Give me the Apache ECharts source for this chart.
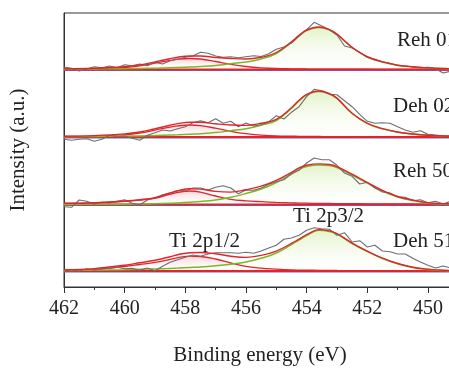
<!DOCTYPE html>
<html>
<head>
<meta charset="utf-8">
<script src="https://cdn.jsdelivr.net/npm/echarts@6/dist/echarts.min.js"></script>
<style>
  html, body { margin: 0; padding: 0; background: #fff; }
  #main { width: 449px; height: 368px; }
</style>
</head>
<body>
<div id="main"></div>
<script>
// energies of the measured points (eV)
var rawEnergy = [462, 461.75, 461.5, 461.25, 461, 460.75, 460.5, 460.25, 460, 459.75, 459.5, 459.25, 459,
  458.75, 458.5, 458.25, 458, 457.75, 457.5, 457.25, 457, 456.75, 456.5, 456.25, 456, 455.75, 455.5,
  455.25, 455, 454.75, 454.5, 454.25, 454, 453.75, 453.5, 453.25, 453, 452.75, 452.5, 452.25, 452,
  451.75, 451.5, 451.25, 451, 450.75, 450.5, 450.25, 450, 449.75, 449.5, 449.25, 449];
// energies where the fitted curves were read
var fitEnergy = [462, 461, 460, 459.5, 459, 458.5, 458.25, 457.85, 457.5, 457, 456.5, 456, 455.5, 455,
  454.5, 454.25, 454, 453.6, 453.25, 453, 452.5, 452, 451.5, 451, 450.5, 450, 449.5, 449];

var sampleNames = ["Reh 01", "Deh 02", "Reh 50", "Deh 51"];

// raw spectra (height above each baseline)
var reh01Raw = [2.5, 1.2, -1.5, 0.5, 2.8, 1.8, 3.5, 1.8, 4.8, 3.8, 5.5, 3.8, 7.2, 5.5, 8.8, 10.2, 12.2, 13.5,
  17.2, 16.2, 13.5, 12.2, 12.8, 11.8, 12.8, 13.8, 13, 15.8, 20.2, 22.5, 26.5, 33.5, 39.8, 47.2, 43.5, 39.8,
  34.5, 23.5, 21.5, 17.2, 12.2, 10.2, 7.8, 6.2, 3.8, 3.5, 2.5, 1.8, 2.2, 0.8, -3.5, -1.8, -0.5];
var deh02Raw = [-2.3, -3.3, -2.3, -1.7, -4.3, -2.3, 1.7, 0.3, 1, -1.3, -3.3, 1.7, 4.3, 7, 6, 8.3, 10.3, 14.3,
  16.3, 14.3, 18.3, 13.7, 15.7, 10.3, 14, 11, 12.3, 15, 21.3, 18, 24.7, 30.3, 40.3, 47.7, 46.3, 42.7, 42.3,
  36.3, 30.3, 22.7, 15.7, 13.7, 14.3, 13.7, 10.3, 7, 4.7, 6.3, 2.7, 2, 1, 0.5, 0.3];
var reh50Raw = [-2.2, -2.8, 4.5, 3.2, 0.5, 2.2, 1.5, 3.2, 4.8, 1.2, -0.2, 4.5, 6.8, 9.8, 11.5, 13.8, 13.8, 16.5,
  16.5, 14.5, 17.2, 18.8, 16.5, 10.8, 14.5, 14.2, 16.5, 20.2, 22.8, 24.8, 30.8, 34.2, 41.5, 46.5, 44.8, 44.8,
  39.2, 31.5, 28.2, 20.5, 22.2, 16.5, 12.5, 11.5, 7.8, 7.2, 3.8, 4.8, 1.8, 3.2, 0.5, 3.2, 1];
var deh51Raw = [-0.3, 1.3, 0, 2.3, 1, 2, 2.7, 3.7, 2.3, 2.7, 0.7, 3, 0.3, 4.7, 8.7, 11.3, 13.7, 16, 14.7, 17,
  18.3, 18.3, 18.3, 17.7, 18.7, 17.7, 20, 23, 25.7, 31.7, 33, 35.7, 40.7, 43.3, 42.3, 41.7, 35.7, 38.3, 29,
  30.3, 24, 25.7, 20, 19.3, 17, 17, 12.7, 9, 5.7, 3, 5, 3, 2];

// fitted Ti 2p3/2 components
var reh01Ti2p3 = [0.3, 0.5, 0.8, 1.0, 1.3, 1.7, 2.0, 2.5, 3.0, 4.0, 5.8, 7.5, 10.5, 16, 27, 33.5, 39, 42, 39.5,
  35, 22, 12.5, 7.5, 4.2, 2.6, 1.5, 0.9, 0.6];
var deh02Ti2p3 = [0.3, 0.5, 0.9, 1.1, 1.4, 1.9, 2.2, 2.8, 3.3, 4.4, 6.3, 8.3, 11.8, 16.5, 28.5, 36, 42, 45.5, 43,
  38.5, 23.5, 13.5, 8.2, 4.8, 2.9, 1.7, 1.0, 0.7];
var reh50Ti2p3 = [0.1, 0.2, 0.3, 0.5, 0.7, 1.2, 1.6, 2.3, 3.0, 4.6, 7.2, 11, 15.5, 22, 30.5, 35.2, 38, 39.5, 39,
  37, 29.5, 21.3, 13.5, 7.5, 4, 1.5, 0.5, 0.2];
var deh51Ti2p3 = [0.5, 0.8, 1.3, 1.7, 2.1, 2.6, 2.9, 3.5, 4.0, 5.2, 6.8, 9, 12.7, 18, 26.5, 31, 35.5, 40.7, 39.5,
  37, 27.5, 19.5, 12.5, 7.2, 3.5, 1.6, 0.5, 0.2];

// fitted Ti 2p1/2 components
var reh01Ti2p1 = [0.5, 0.8, 2.0, 3.6, 6.3, 9.1, 10.3, 11, 10.5, 8.0, 5.2, 3.0, 1.7, 1.0, 0.7, 0.6, 0.5, 0.45,
  0.4, 0.35, 0.3, 0.25, 0.2, 0.2, 0.15, 0.1, 0.1, 0.1];
var deh02Ti2p1 = [0.5, 0.9, 2.2, 3.9, 6.9, 9.9, 11.2, 12, 11.4, 8.8, 5.7, 3.3, 1.9, 1.1, 0.8, 0.7, 0.6, 0.5,
  0.45, 0.4, 0.3, 0.25, 0.2, 0.2, 0.15, 0.1, 0.1, 0.1];
var reh50Ti2p1 = [1.1, 1.6, 3.2, 4.3, 6.2, 10.3, 12.2, 13.5, 12.4, 8.5, 5.2, 3.7, 2.8, 2.1, 1.6, 1.4, 1.3, 1.1,
  1.0, 0.9, 0.8, 0.7, 0.6, 0.5, 0.5, 0.4, 0.4, 0.3];
var deh51Ti2p1 = [0.9, 1.6, 4.5, 6.5, 8.6, 11.7, 13.4, 14.8, 14.5, 12.0, 8.0, 4.6, 2.9, 1.9, 1.1, 0.9, 0.8, 0.7,
  0.6, 0.5, 0.45, 0.4, 0.35, 0.3, 0.3, 0.25, 0.2, 0.2];

// vertical offset of each stacked spectrum
var panelBase = [217.5, 150, 82.5, 16];

var raws = [reh01Raw, deh02Raw, reh50Raw, deh51Raw];
var p3s = [reh01Ti2p3, deh02Ti2p3, reh50Ti2p3, deh51Ti2p3];
var p1s = [reh01Ti2p1, deh02Ti2p1, reh50Ti2p1, deh51Ti2p1];

var RED = "#e2252b", GREEN = "#78b928", GREY = "#6e6e6e", BLUE = "#5d6fd1";
var FONT = '"Liberation Serif", "Times New Roman", serif';

function shift(xs, ys, base) {
  return xs.map(function (x, i) { return [x, ys[i] + base]; });
}

var series = [];
for (var k = 0; k < 4; k++) {
  var base = panelBase[k];
  var env = p3s[k].map(function (v, i) { return v + p1s[k][i]; });
  series.push({
    type: "line", silent: true, symbol: "none",
    data: [[448, base - 1], [462, base - 1]],
    lineStyle: { color: BLUE, width: 1 }
  });
  series.push({
    type: "line", silent: true, symbol: "none",
    data: [[448, base], [462, base]],
    lineStyle: { color: RED, width: 2 }
  });
  series.push({
    type: "line", silent: true, symbol: "none", smooth: 0.4,
    data: shift(fitEnergy, p1s[k], base),
    lineStyle: { color: RED, width: 1.3 },
    areaStyle: {
      origin: base,
      color: new echarts.graphic.LinearGradient(0, 0, 0, 1, [
        { offset: 0, color: "rgba(238,140,150,0.55)" },
        { offset: 1, color: "rgba(255,255,255,0.1)" }
      ])
    }
  });
  series.push({
    type: "line", silent: true, symbol: "none", smooth: 0.4,
    data: shift(fitEnergy, p3s[k], base),
    lineStyle: { color: GREEN, width: 1.5 },
    areaStyle: {
      origin: base,
      color: new echarts.graphic.LinearGradient(0, 0, 0, 1, [
        { offset: 0, color: "rgba(205,235,160,0.8)" },
        { offset: 1, color: "rgba(255,255,255,0.2)" }
      ])
    }
  });
  series.push({
    type: "line", silent: true, symbol: "none",
    data: shift(rawEnergy, raws[k], base),
    lineStyle: { color: GREY, width: 1.1 }
  });
  series.push({
    type: "line", silent: true, symbol: "none", smooth: 0.4,
    data: shift(fitEnergy, env, base),
    lineStyle: { color: RED, width: 1.4 }
  });
}

var labelPos = [[397, 40], [393, 106.5], [393, 171], [393, 241.5]];
var graphics = sampleNames.map(function (name, i) {
  return {
    type: "text", x: labelPos[i][0], y: labelPos[i][1],
    style: { text: name, font: "21px " + FONT, fill: "#222", align: "left", verticalAlign: "middle" }
  };
});
graphics.push(
  { type: "text", x: 293, y: 216.5,
    style: { text: "Ti 2p3/2", font: "21px " + FONT, fill: "#222", align: "left", verticalAlign: "middle" } },
  { type: "text", x: 169, y: 241.5,
    style: { text: "Ti 2p1/2", font: "21px " + FONT, fill: "#222", align: "left", verticalAlign: "middle" } },
  { type: "text", x: 260, y: 355,
    style: { text: "Binding energy (eV)", font: "21px " + FONT, fill: "#222", align: "center", verticalAlign: "middle" } },
  { type: "text", x: 18, y: 150, rotation: Math.PI / 2,
    style: { text: "Intensity (a.u.)", font: "21px " + FONT, fill: "#222", align: "center", verticalAlign: "middle" } }
);

var chart = echarts.init(document.getElementById("main"));
chart.setOption({
  animation: false,
  grid: {
    left: 64, top: 13, right: -39.6, bottom: 81,
    outerBoundsMode: "none", containLabel: false,
    show: true, borderColor: "#333", borderWidth: 1
  },
  xAxis: {
    type: "value", min: 448, max: 462, interval: 2, inverse: true,
    axisLine: { lineStyle: { color: "#333", width: 1 } },
    axisTick: { length: 6, lineStyle: { color: "#333" } },
    minorTick: { show: true, splitNumber: 2, length: 3, lineStyle: { color: "#333" } },
    splitLine: { show: false },
    axisLabel: { margin: 12, fontSize: 20, fontFamily: FONT, color: "#222" }
  },
  yAxis: {
    type: "value", min: 0, max: 274,
    axisLine: { show: true, lineStyle: { color: "#333" } },
    axisTick: { show: false }, axisLabel: { show: false }, splitLine: { show: false }
  },
  graphic: graphics,
  series: series
});
</script>
</body>
</html>
